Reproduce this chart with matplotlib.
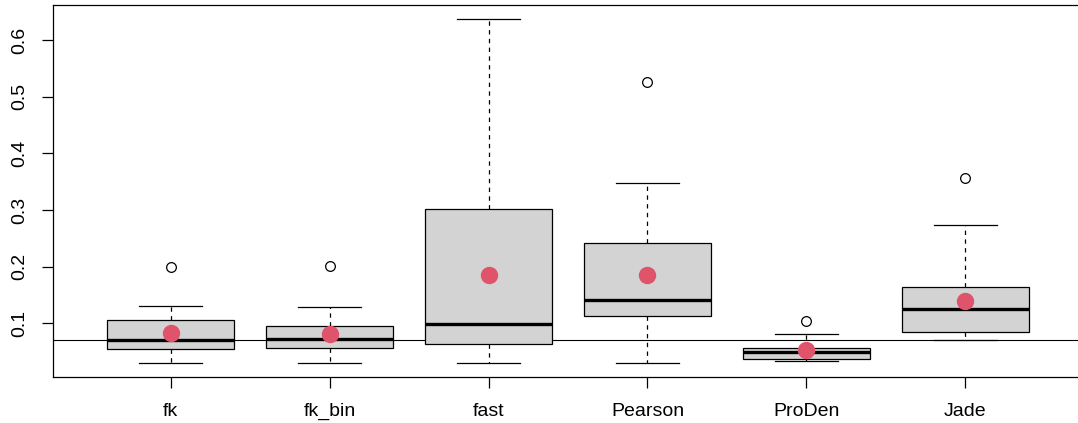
import matplotlib
matplotlib.use("Agg")
import matplotlib.pyplot as plt

plt.rcParams["font.family"] = ["Liberation Sans", "DejaVu Sans"]

methods = ["fk", "fk_bin", "fast", "Pearson", "ProDen", "Jade"]
whislo = [0.030, 0.030, 0.030, 0.030, 0.033, 0.071]
q1 = [0.054, 0.056, 0.063, 0.112, 0.037, 0.085]
medians = [0.071, 0.072, 0.098, 0.141, 0.049, 0.125]
q3 = [0.106, 0.095, 0.301, 0.241, 0.056, 0.164]
whishi = [0.131, 0.129, 0.638, 0.347, 0.081, 0.273]
outliers = [[0.200], [0.202], [], [0.527], [0.104], [0.356]]
means = [0.082, 0.081, 0.185, 0.185, 0.052, 0.139]
ref_line = 0.071
yticks = [0.1, 0.2, 0.3, 0.4, 0.5, 0.6]

stats = []
for i, name in enumerate(methods):
    stats.append(dict(label=name, whislo=whislo[i], q1=q1[i], med=medians[i],
                      q3=q3[i], whishi=whishi[i], fliers=outliers[i]))

fig = plt.figure(figsize=(10.78, 4.23), dpi=100)
ax = fig.add_axes([0.0492, 0.1095, 0.9554, 0.8787])

pos = list(range(1, len(methods) + 1))
ax.bxp(stats, positions=pos, widths=0.8, capwidths=0.4, patch_artist=True,
       showfliers=True,
       boxprops=dict(facecolor="#D3D3D3", edgecolor="black", linewidth=0.9),
       medianprops=dict(color="black", linewidth=2.4, solid_capstyle="butt"),
       whiskerprops=dict(color="black", linewidth=0.9, linestyle=(0, (3.5, 3.5))),
       capprops=dict(color="black", linewidth=0.9),
       flierprops=dict(marker="o", markerfacecolor="none", markeredgecolor="black",
                       markersize=7, markeredgewidth=0.9))

ax.axhline(ref_line, color="black", linewidth=0.8, zorder=1)
ax.plot(pos, means, "o", color="#DF536B", markersize=11.5, zorder=5)

ax.set_xlim(0.26, 6.74)
ax.set_ylim(0.0057, 0.6622)
ax.set_yticks(yticks)
ax.set_yticklabels([f"{v:.1f}" for v in yticks], rotation=90, va="center")
ax.set_xticks(pos)
ax.set_xticklabels(methods)
ax.tick_params(axis="both", length=8, width=0.9, labelsize=14, color="black")
ax.tick_params(axis="x", pad=11)
ax.tick_params(axis="y", pad=10)
for s in ax.spines.values():
    s.set_linewidth(0.9)

fig.savefig("out.png", dpi=100)
